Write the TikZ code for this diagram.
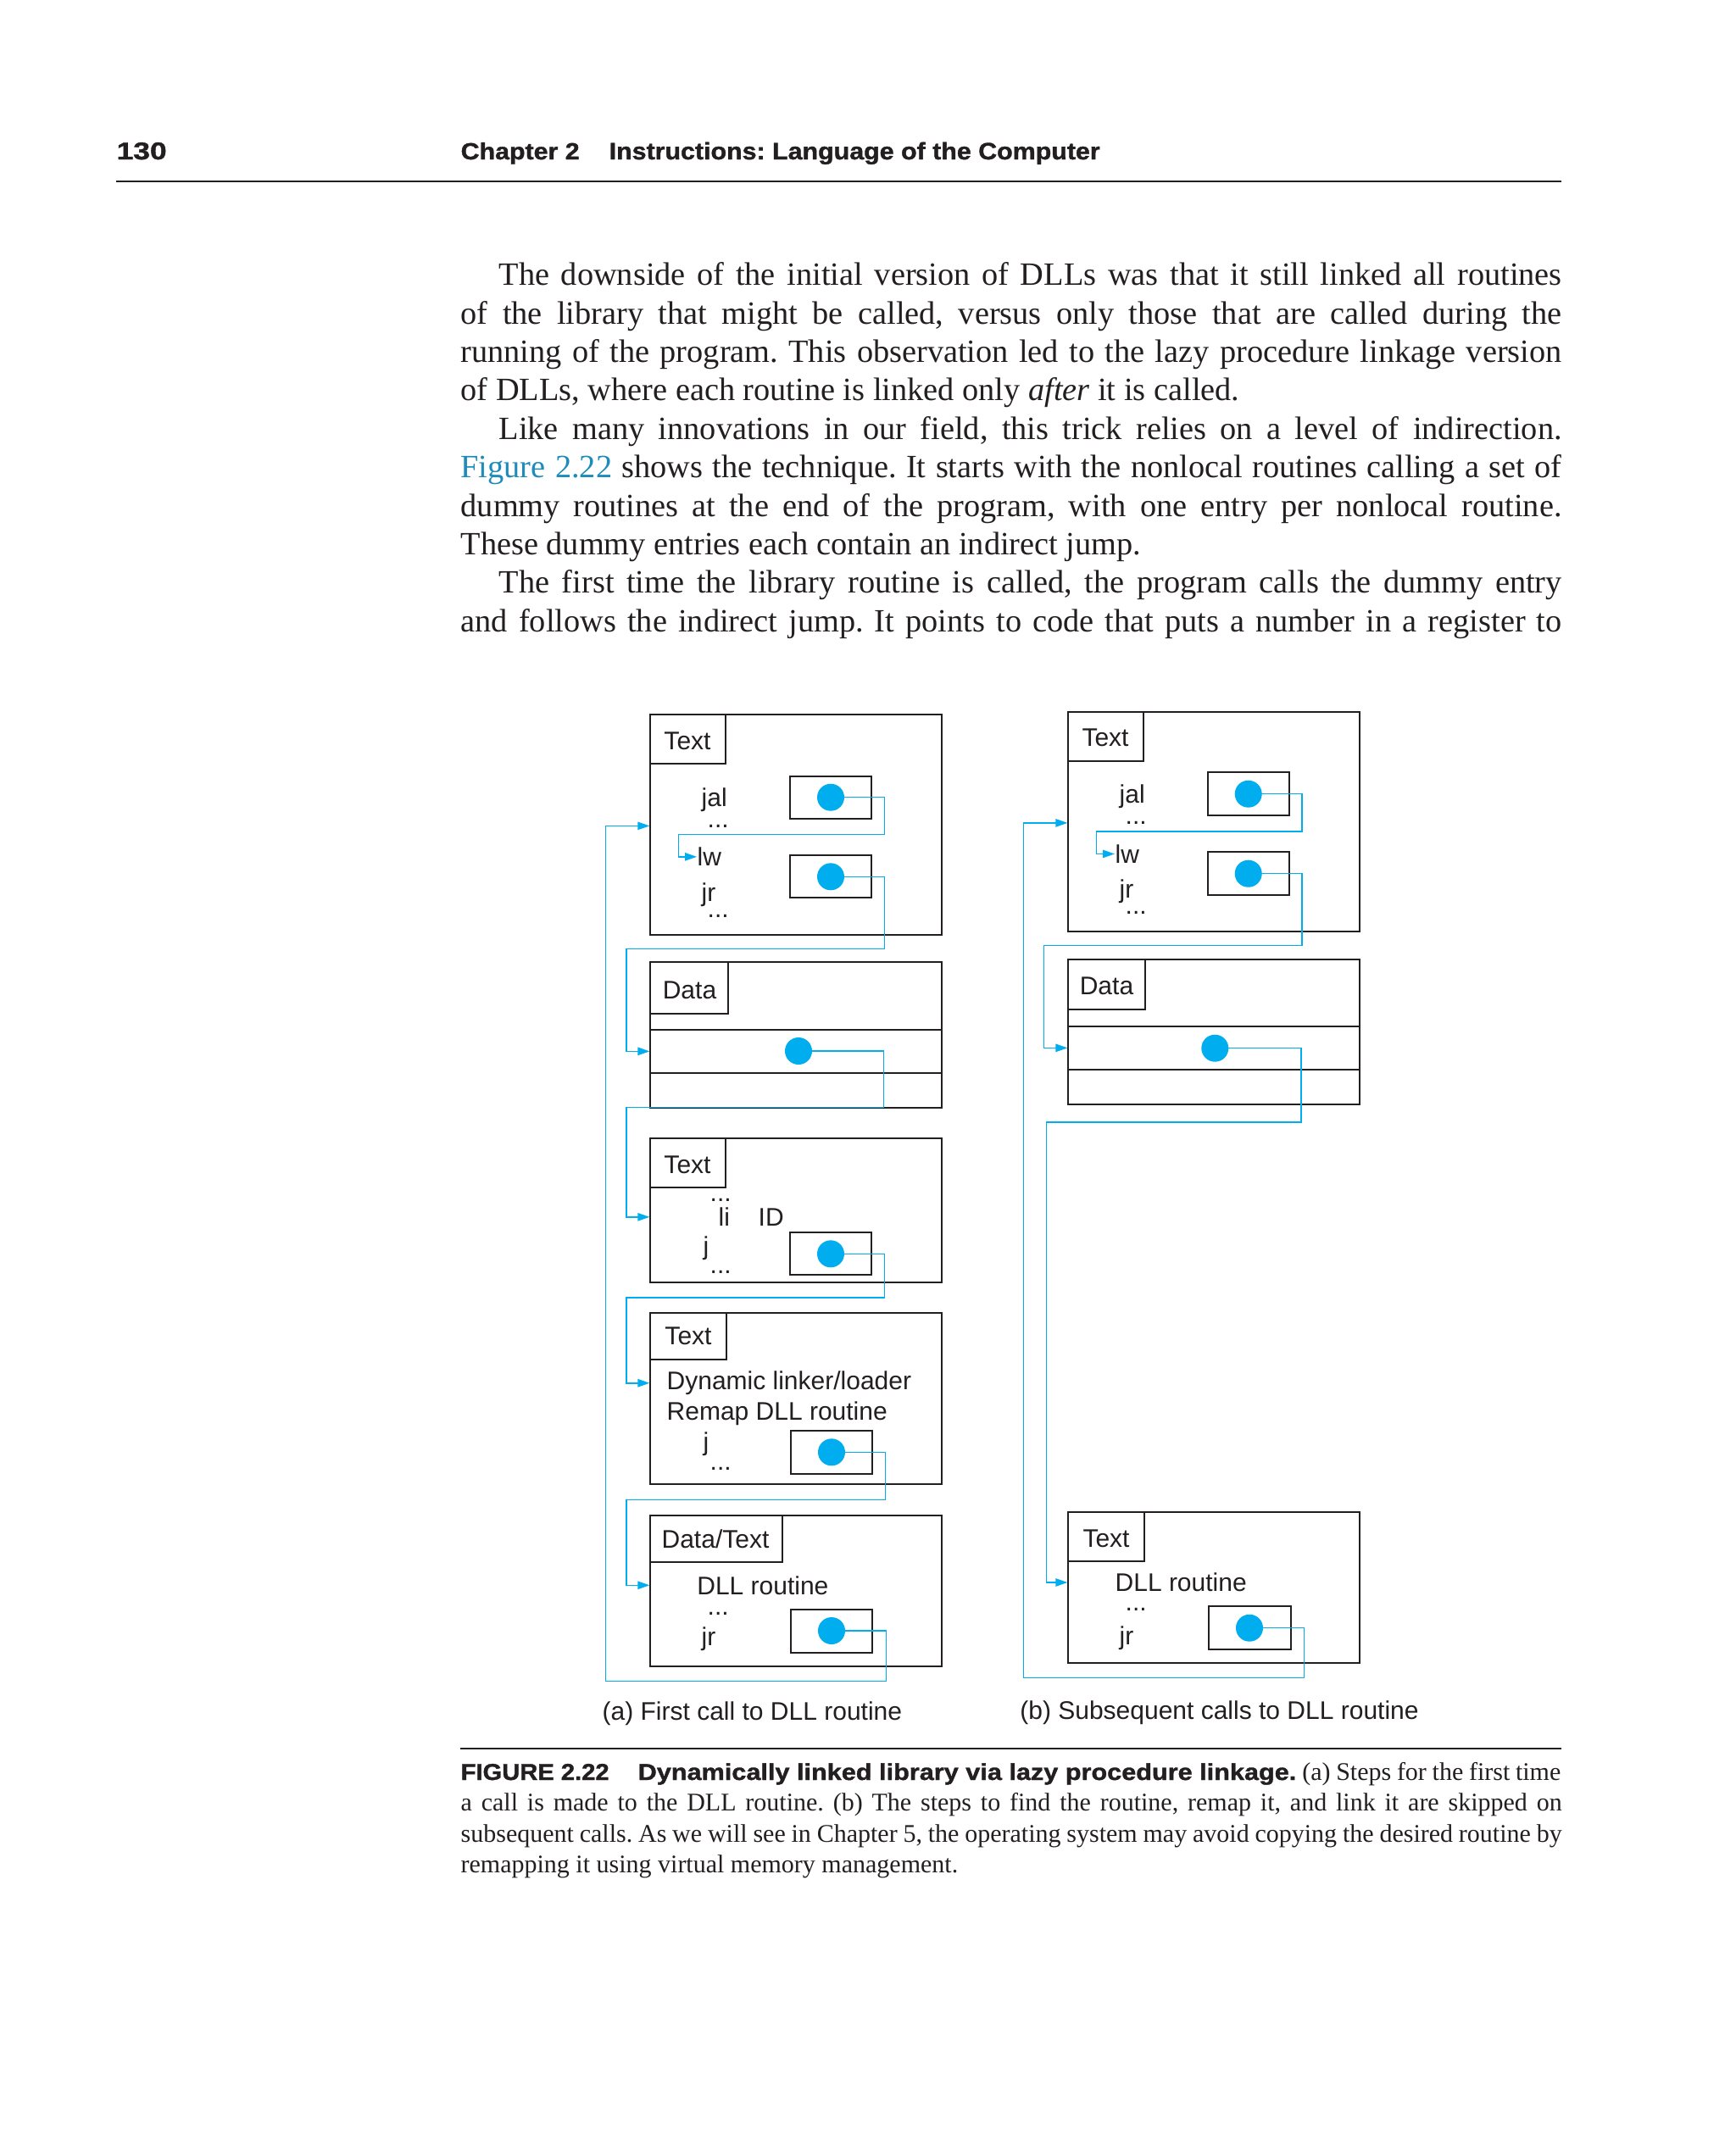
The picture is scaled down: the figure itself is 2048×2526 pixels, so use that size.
\documentclass[tikz,border=0pt]{standalone}
\usepackage{fontspec}
\usepackage{graphicx}
\setmainfont{Liberation Serif}
\newfontfamily\dsans{Liberation Sans}
\newfontfamily\heavy{Liberation Sans}[BoldFeatures={FakeBold=1.2}]
\usetikzlibrary{arrows.meta,fit}
\frenchspacing
\definecolor{cyanl}{RGB}{0,173,238}
\definecolor{ink}{RGB}{35,31,32}
\definecolor{linkc}{RGB}{28,140,186}
\newcommand\jl[1]{\makebox[389.7pt][s]{#1}}
\newcommand\jli[1]{\makebox[376.2pt][s]{#1}}
\tikzset{
  box/.style={draw=ink, line width=0.55pt, inner sep=0pt, fit={#1}},
  dot/.style={circle, fill=cyanl, inner sep=0pt, minimum size=9.6pt},
  lbl/.style={font=\dsans\fontsize{9}{11}\selectfont, text=ink, inner sep=0pt},
  lw/.style={lbl, anchor=base west},
  lc/.style={lbl, anchor=base},
  conn/.style={draw=cyanl, line width=0.45pt},
  arr/.style={conn, -{Triangle[length=4.2pt,width=2.8pt]}},
  body/.style={font=\fontsize{11.5}{13}\selectfont\frenchspacing, text=ink, inner sep=0pt, anchor=base west},
  capt/.style={font=\fontsize{9}{10}\selectfont\frenchspacing, text=ink, inner sep=0pt, anchor=base west},
  hd/.style={text=ink, inner sep=0pt, anchor=base west}
}
\begin{document}
\begin{tikzpicture}[x=0.3pt,y=-0.3pt]
\useasboundingbox (0,0) rectangle (2048,2526);
\fill[white] (0,0) rectangle (2048,2526);

% ---------- header ----------
\node[hd] (pg) at (137,188) {\resizebox{17.7pt}{6pt}{\heavy\bfseries 130}};
\node[hd] (ch) at (543,188) {\resizebox{42pt}{6pt}{\heavy\bfseries Chapter 2}};
\node[hd] (ct) at (718,188) {\resizebox{173.7pt}{6.1pt}{\heavy\bfseries Instructions: Language of the Computer}};
\draw[ink, line width=0.6pt] (137,214) -- (1842,214);

% ---------- body text ----------
\node[body] (b1) at (588,336.7) {\jli{The downside of the initial version of DLLs was that it still linked all routines}};
\node[body] (b2) at (543,382.1) {\jl{of the library that might be called, versus only those that are called during the}};
\node[body] (b3) at (543,427.5) {\jl{running of the program. This observation led to the lazy procedure linkage version}};
\node[body] (b4) at (543,472.9) {of DLLs, where each routine is linked only \textit{after} it is called.};
\node[body] (b5) at (588,518.3) {\jli{Like many innovations in our field, this trick relies on a level of indirection.}};
\node[body] (b6) at (543,563.7) {\jl{{\color{linkc}Figure 2.22} shows the technique. It starts with the nonlocal routines calling a set of}};
\node[body] (b7) at (543,609.1) {\jl{dummy routines at the end of the program, with one entry per nonlocal routine.}};
\node[body] (b8) at (543,654.5) {These dummy entries each contain an indirect jump.};
\node[body] (b9) at (588,699.9) {\jli{The first time the library routine is called, the program calls the dummy entry}};
\node[body] (b10) at (543,745.3) {\jl{and follows the indirect jump. It points to code that puts a number in a register to}};

% ---------- panel (a) ----------
\node[box={(767.3,843.3) (1111,1102.7)}] (A1) {};
\node[box={(767.3,843.3) (855.7,901.3)}] (A1t) {};
\node[lc] (A1l) at (811,884) {Text};
\node[lw] (jalA) at (827,951.7) {jal};
\node[lw] (e1A) at (834,976) {...};
\node[lw] (lwA) at (822,1021.7) {lw};
\node[lw] (jrA) at (827,1063.3) {jr};
\node[lw] (e2A) at (834,1082) {...};
\node[box={(931.7,915.7) (1028.3,965.7)}] (pA1) {};
\node[box={(931.7,1009) (1028.3,1059.3)}] (pA2) {};

\node[box={(767.3,1135.3) (1111,1306.7)}] (A2) {};
\node[box={(767.3,1135.3) (859,1195.7)}] (A2t) {};
\node[lc] (A2l) at (813.5,1178.3) {Data};
\node[box={(767.3,1215) (1111,1265.7)}] (A2r) {};

\node[box={(767.3,1343.3) (1111,1513.3)}] (A3) {};
\node[box={(767.3,1343.3) (855.7,1401.3)}] (A3t) {};
\node[lc] (A3l) at (811,1384) {Text};
\node[lw] (e3A) at (837,1417.7) {...};
\node[lw] (liA) at (847,1446.7) {li};
\node[lw] (idA) at (894,1446.7) {ID};
\node[lw] (jA) at (829,1480) {j};
\node[lw] (e4A) at (837,1502) {...};
\node[box={(931.7,1454) (1028.3,1504.3)}] (pA3) {};

\node[box={(767.3,1549.3) (1111,1750.7)}] (A4) {};
\node[box={(767.3,1549.3) (856.7,1604)}] (A4t) {};
\node[lc] (A4l) at (812,1586.7) {Text};
\node[lw] (dynA) at (786,1639.5) {Dynamic linker/loader};
\node[lw] (remA) at (786,1675.5) {Remap DLL routine};
\node[lw] (j2A) at (829,1711.7) {j};
\node[lw] (e5A) at (837,1734) {...};
\node[box={(933.3,1688.3) (1029.3,1738.7)}] (pA4) {};

\node[box={(767.3,1788.3) (1111,1966)}] (A5) {};
\node[box={(767.3,1788.3) (923.3,1842.7)}] (A5t) {};
\node[lc] (A5l) at (844,1826) {Data/Text};
\node[lw] (dllA) at (821.7,1881) {DLL routine};
\node[lw] (e6A) at (834,1905) {...};
\node[lw] (jr2A) at (827,1941.7) {jr};
\node[box={(933.3,1899) (1029.3,1950)}] (pA5) {};

\draw[arr] (980,940.7) -- (1043.3,940.7) |- (800.7,984.3) |- (lwA.west);
\draw[arr] (980,1034.3) -- (1043.3,1034.3) |- (739,1119.3) |- (A2r.west);
\draw[arr] (942,1240) -- (1042.7,1240) |- (739,1306.7) |- (A3.west |- liA.west);
\draw[arr] (980,1479.3) -- (1043.3,1479.3) |- (739,1531) |- (A4.west |- dynA.west);
\draw[arr] (981,1713.3) -- (1044.7,1713.3) |- (739,1769.3) |- (A5.west |- dllA.west);
\draw[arr] (981,1924) -- (1045.3,1924) |- (714.7,1983.3) |- (A1.west |- e1A.center);

\node[dot] (dA1) at (980,940.7) {};
\node[dot] (dA2) at (980,1034.3) {};
\node[dot] (dA3) at (942,1240) {};
\node[dot] (dA4) at (980,1479.3) {};
\node[dot] (dA5) at (981,1713.3) {};
\node[dot] (dA6) at (981,1924) {};

\node[lw] (capA) at (710,2029) {(a) First call to DLL routine};

% ---------- panel (b) ----------
\node[box={(1260.3,840) (1604,1099)}] (B1) {};
\node[box={(1260.3,840) (1348.7,897.7)}] (B1t) {};
\node[lc] (B1l) at (1304,880.7) {Text};
\node[lw] (jalB) at (1320,947.7) {jal};
\node[lw] (e1B) at (1327,972.5) {...};
\node[lw] (lwB) at (1315,1018.3) {lw};
\node[lw] (jrB) at (1320,1059.3) {jr};
\node[lw] (e2B) at (1327,1078.5) {...};
\node[box={(1424.7,911) (1521.3,962.3)}] (pB1) {};
\node[box={(1424.7,1005) (1521.3,1056)}] (pB2) {};

\node[box={(1260.3,1132.3) (1604,1302.7)}] (B2) {};
\node[box={(1260.3,1132.3) (1350.7,1191)}] (B2t) {};
\node[lc] (B2l) at (1305.5,1173.3) {Data};
\node[box={(1260.3,1211) (1604,1261.7)}] (B2r) {};

\node[box={(1260.3,1784) (1604,1962.3)}] (B3) {};
\node[box={(1260.3,1784) (1350,1842.3)}] (B3t) {};
\node[lc] (B3l) at (1305,1825) {Text};
\node[lw] (dllB) at (1315,1877.7) {DLL routine};
\node[lw] (e3B) at (1327,1900.5) {...};
\node[lw] (jr2B) at (1320,1940) {jr};
\node[box={(1425.7,1895.3) (1522.7,1946.3)}] (pB3) {};

\draw[arr] (1472.7,936.7) -- (1536,936.7) |- (1293.3,981) |- (lwB.west);
\draw[arr] (1472.7,1030.7) -- (1536,1030.7) |- (1231.7,1115.7) |- (B2r.west);
\draw[arr] (1433.3,1236.7) -- (1535,1236.7) |- (1234.3,1324) |- (B3.west |- dllB.west);
\draw[arr] (1474,1920.7) -- (1538.3,1920.7) |- (1207.7,1979.3) |- (B1.west |- e1B.center);

\node[dot] (dB1) at (1472.7,936.7) {};
\node[dot] (dB2) at (1472.7,1030.7) {};
\node[dot] (dB3) at (1433.3,1236.7) {};
\node[dot] (dB4) at (1474,1920.7) {};

\node[lw] (capB) at (1202.7,2028) {(b) Subsequent calls to DLL routine};

% ---------- figure caption ----------
\draw[ink, line width=0.6pt] (543,2062.7) -- (1842,2062.7);
\node[hd] (fig) at (543,2100) {\resizebox{52.5pt}{5.7pt}{\heavy\bfseries FIGURE 2.22}};
\node[hd] (figt) at (752,2100) {\resizebox{233pt}{5.9pt}{\heavy\bfseries Dynamically linked library via lazy procedure linkage.}};
\node[capt, anchor=base east] (c1) at (1842,2100) {\makebox[91.5pt][s]{(a) Steps for the first time}};
\node[capt] (c2) at (543,2136.5) {\jl{a call is made to the DLL routine. (b) The steps to find the routine, remap it, and link it are skipped on}};
\node[capt] (c3) at (543,2173) {\jl{subsequent calls. As we will see in Chapter 5, the operating system may avoid copying the desired routine by}};
\node[capt] (c4) at (543,2209.5) {remapping it using virtual memory management.};
\end{tikzpicture}
\end{document}
